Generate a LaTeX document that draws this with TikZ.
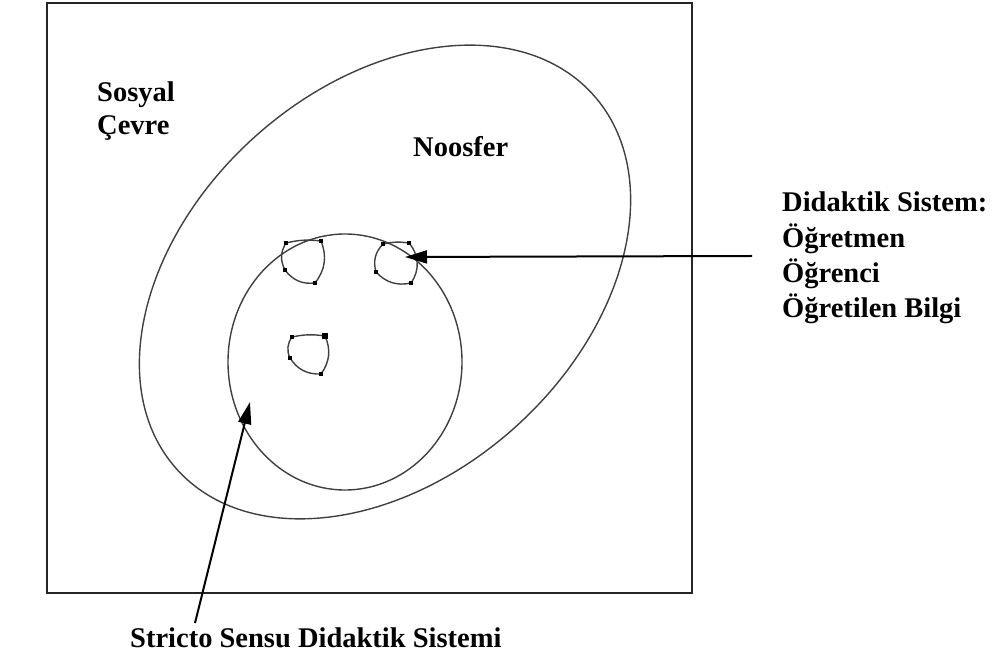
\documentclass[tikz,border=0pt]{standalone}
\usepackage{fontspec}
\setmainfont{Liberation Serif}
\usetikzlibrary{arrows.meta}
\tikzset{
  lbl/.style={anchor=base west,inner sep=0pt,font=\fontsize{28.5}{34}\selectfont\bfseries},
  frame/.style={draw=black!85,line width=2.8pt},
  ring/.style={draw=black!75,line width=1.4pt},
  blob/.style={draw=black!75,line width=1.4pt},
  dot/.style={fill=black,inner sep=0pt,minimum size=3.5pt,rectangle},
  bigdot/.style={fill=black,inner sep=0pt,minimum size=6pt,rectangle},
  ptr/.style={draw=black,line width=2pt,-{Triangle[length=22pt,width=13pt]}}
}
\begin{document}
\begin{tikzpicture}[x=1pt,y=1pt]
\useasboundingbox (0,0) rectangle (998,661);
% frame
\draw[frame] (47,68) rectangle (692,658);
% noosfer ellipse
\draw[ring] (385,379) ellipse [x radius=280, y radius=195, rotate=42];
% stricto sensu circle
\draw[ring] (345,299) ellipse [x radius=117, y radius=128];
% blob 1
\coordinate (a1) at (286,418); \coordinate (b1) at (321,420);
\coordinate (c1) at (315,378); \coordinate (d1) at (285,391);
\draw[blob] (a1) to[bend left=10] (b1) to[bend left=30] (c1) to[bend left=30] (d1) to[bend left=30] (a1);
% blob 2
\coordinate (a2) at (383,417); \coordinate (b2) at (409,418);
\coordinate (c2) at (411,378); \coordinate (d2) at (376,389);
\draw[blob] (a2) to[bend left=10] (b2) to[bend left=38] (c2) to[bend left=30] (d2) to[bend left=30] (a2);
% blob 3
\coordinate (a3) at (292,324); \coordinate (b3) at (325,325);
\coordinate (c3) at (321,287); \coordinate (d3) at (290,303);
\draw[blob] (a3) to[bend left=10] (b3) to[bend left=30] (c3) to[bend left=30] (d3) to[bend left=30] (a3);
% markers
\foreach \p in {a1,b1,c1,d1,a2,b2,c2,d2,a3,c3,d3} \node[dot] at (\p) {};
\node[bigdot] at (b3) {};
% labels
\node[lbl] (s1) at (97,559) {Sosyal};
\node[lbl] (s2) at (97,526) {Çevre};
\node[lbl] (noo) at (413,504) {Noosfer};
\node[lbl] (t1) at (782,449) {Didaktik Sistem:};
\node[lbl] (t2) at (782,413) {Öğretmen};
\node[lbl] (t3) at (782,378) {Öğrenci};
\node[lbl] (t4) at (782,343) {Öğretilen Bilgi};
\node[lbl] (ss) at (130,14) {Stricto Sensu Didaktik Sistemi};
% pointers
\coordinate (p1s) at (752,405);
\coordinate (p1e) at (405,404);
\draw[ptr] (p1s) -- (p1e);
\coordinate (p2s) at (195,38);
\coordinate (p2e) at (250,259);
\draw[ptr] (p2s) -- (p2e);
\end{tikzpicture}
\end{document}
